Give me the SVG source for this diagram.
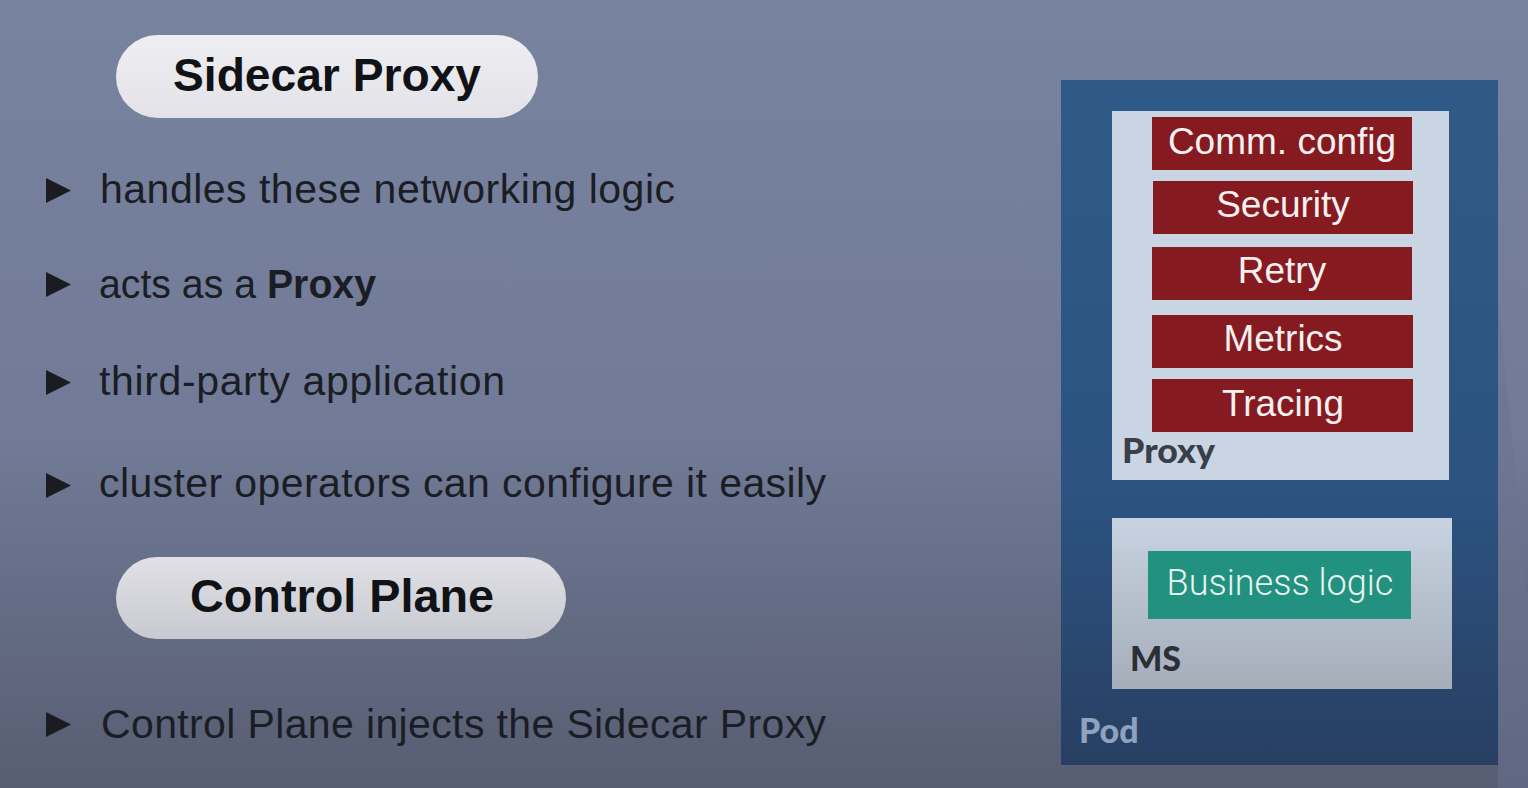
<svg xmlns="http://www.w3.org/2000/svg" width="1528" height="788" viewBox="0 0 1528 788">
  <defs>
    <linearGradient id="bg" x1="0" y1="0" x2="0" y2="1">
      <stop offset="0" stop-color="#78839f"/>
      <stop offset="0.55" stop-color="#717b97"/>
      <stop offset="1" stop-color="#575d72"/>
    </linearGradient>
    <linearGradient id="podFill" x1="0" y1="0" x2="0" y2="1">
      <stop offset="0" stop-color="#2f5a88"/>
      <stop offset="0.6" stop-color="#2c5381"/>
      <stop offset="1" stop-color="#283f63"/>
    </linearGradient>
    <linearGradient id="msFill" x1="0" y1="0" x2="0" y2="1">
      <stop offset="0" stop-color="#c7d3e1"/>
      <stop offset="1" stop-color="#a5adb9"/>
    </linearGradient>
    <linearGradient id="pill1" x1="0" y1="0" x2="0" y2="1">
      <stop offset="0" stop-color="#eeeef2"/>
      <stop offset="1" stop-color="#e2e2e8"/>
    </linearGradient>
    <linearGradient id="pill2" x1="0" y1="0" x2="0" y2="1">
      <stop offset="0" stop-color="#e0e0e6"/>
      <stop offset="1" stop-color="#c9c9d1"/>
    </linearGradient>
    <path id="bullet" d="M0,0 L25,12.5 L0,25 Z"/>
  </defs>
  <style>
    .pillText { font-family: "Liberation Sans", Arial, sans-serif; font-weight: bold; font-size: 47px; fill: #111216; }
    .item { font-family: "Liberation Sans", Arial, sans-serif; font-size: 41px; fill: #1b1d24; }
    .bul { fill: #1b1c22; }
    .feature { fill: #851a21; }
    .featureText { font-family: "Liberation Sans", Arial, sans-serif; font-size: 37px; fill: #f6f0f0; text-anchor: middle; }
    .tag { font-family: Lato, "Open Sans", sans-serif; font-weight: 900; font-size: 34px; }
  </style>

  <!-- backdrop -->
  <rect x="0" y="0" width="1528" height="788" fill="url(#bg)"/>
  <path d="M1498,300 C1510,420 1520,520 1528,600 L1528,788 L1498,788 Z" fill="#6a7290" opacity="0.5"/>

  <!-- left column: headings and bullet list -->
  <g id="sidecar-proxy-title">
    <rect x="116" y="35" width="422" height="83" rx="41.5" fill="url(#pill1)"/>
    <text class="pillText" x="327" y="91" text-anchor="middle" textLength="308" lengthAdjust="spacingAndGlyphs">Sidecar Proxy</text>
  </g>

  <g id="item-networking">
    <use href="#bullet" x="46" y="178" class="bul"/>
    <text class="item" x="100" y="203" textLength="575">handles these networking logic</text>
  </g>
  <g id="item-proxy">
    <use href="#bullet" x="46" y="272" class="bul"/>
    <text class="item" x="99" y="298" textLength="277" lengthAdjust="spacingAndGlyphs">acts as a <tspan font-weight="bold">Proxy</tspan></text>
  </g>
  <g id="item-third-party">
    <use href="#bullet" x="46" y="370" class="bul"/>
    <text class="item" x="99" y="395" textLength="406">third-party application</text>
  </g>
  <g id="item-operators">
    <use href="#bullet" x="46" y="473" class="bul"/>
    <text class="item" x="99" y="497" textLength="727">cluster operators can configure it easily</text>
  </g>

  <g id="control-plane-title">
    <rect x="116" y="557" width="450" height="82" rx="41" fill="url(#pill2)"/>
    <text class="pillText" x="342" y="612" text-anchor="middle" textLength="304" lengthAdjust="spacingAndGlyphs">Control Plane</text>
  </g>

  <g id="item-inject">
    <use href="#bullet" x="46" y="712" class="bul"/>
    <text class="item" x="101" y="738" textLength="725">Control Plane injects the Sidecar Proxy</text>
  </g>

  <!-- right column: pod with proxy and microservice -->
  <g id="pod">
    <rect x="1061" y="80" width="437" height="685" fill="url(#podFill)"/>
    <text class="tag" x="1079" y="743" fill="#8fa3bf">Pod</text>
  </g>

  <g id="proxy">
    <rect x="1112" y="111" width="337" height="369" fill="#c9d5e3"/>
    <text class="tag" x="1122" y="463" fill="#393e49" textLength="93" lengthAdjust="spacingAndGlyphs">Proxy</text>
  </g>

  <g id="comm-config">
    <rect class="feature" x="1152" y="117" width="260" height="53"/>
    <text class="featureText" x="1282" y="154">Comm. config</text>
  </g>
  <g id="security">
    <rect class="feature" x="1153" y="181" width="260" height="53"/>
    <text class="featureText" x="1283" y="217">Security</text>
  </g>
  <g id="retry">
    <rect class="feature" x="1152" y="247" width="260" height="53"/>
    <text class="featureText" x="1282" y="283">Retry</text>
  </g>
  <g id="metrics">
    <rect class="feature" x="1152" y="315" width="261" height="53"/>
    <text class="featureText" x="1283" y="351">Metrics</text>
  </g>
  <g id="tracing">
    <rect class="feature" x="1152" y="379" width="261" height="53"/>
    <text class="featureText" x="1283" y="416">Tracing</text>
  </g>

  <g id="ms">
    <rect x="1112" y="518" width="340" height="171" fill="url(#msFill)"/>
    <text class="tag" x="1130" y="671" fill="#2b2f37">MS</text>
  </g>
  <g id="business-logic">
    <rect x="1148" y="551" width="263" height="68" fill="#22917f"/>
    <text x="1280" y="595" text-anchor="middle" font-family="Roboto, 'Open Sans', sans-serif" font-weight="300" font-size="36" fill="#e9f3f0">Business logic</text>
  </g>

  <!-- no connectors in this figure -->
  <g id="connectors"/>
</svg>
